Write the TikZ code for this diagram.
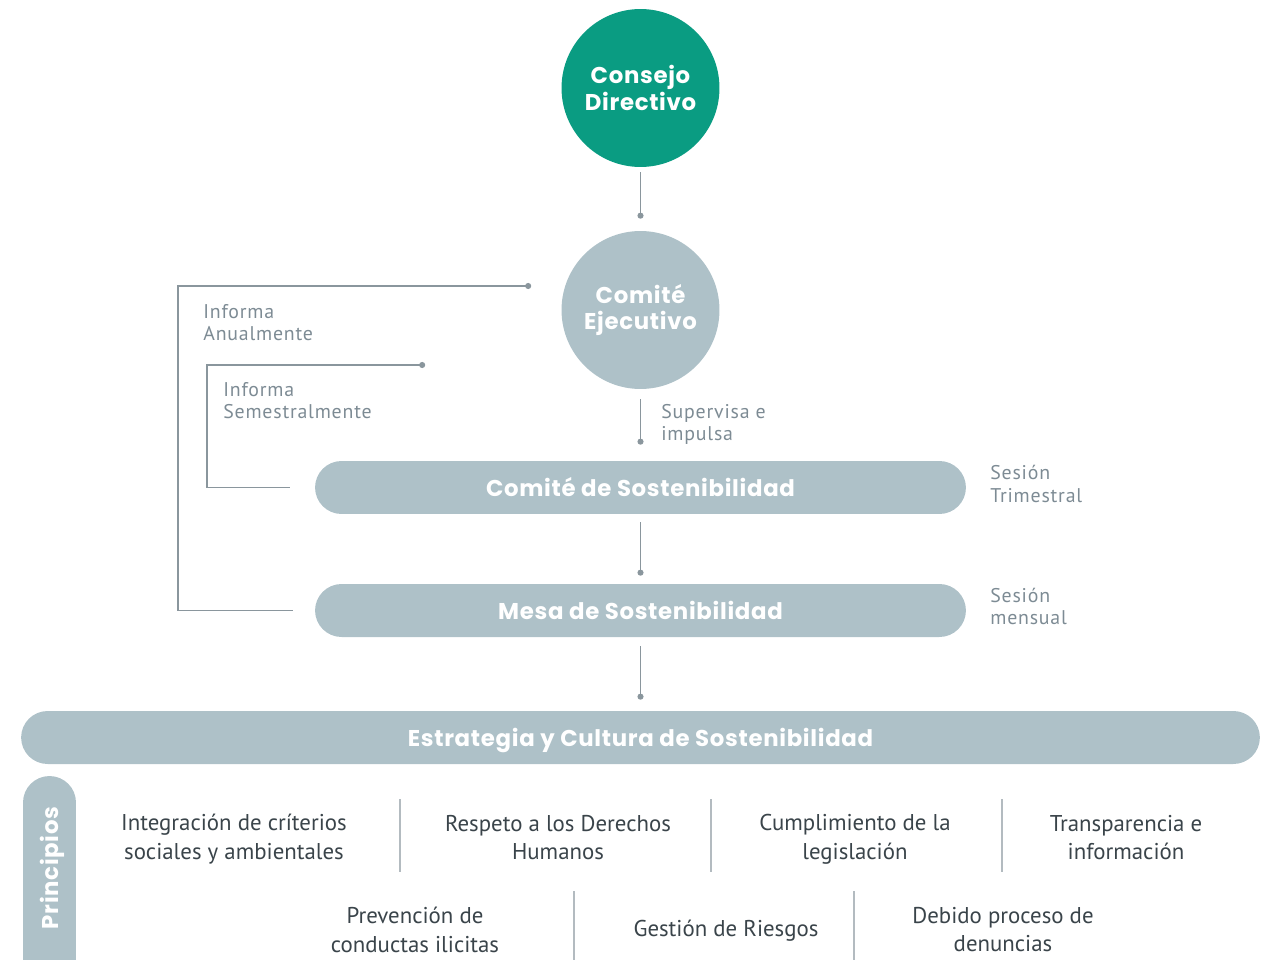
\documentclass[tikz,border=0pt]{standalone}
\usepackage{fontspec}
\setmainfont{PT Sans}
\newfontfamily\titlefont{Poppins}[LetterSpace=3]
\newfontfamily\notefont{PT Sans}[LetterSpace=4]
\usetikzlibrary{positioning, calc, arrows.meta}
\definecolor{Verde}{HTML}{0A9C82}
\definecolor{Gris}{HTML}{AEC1C8}
\definecolor{Linea}{HTML}{8A969D}
\definecolor{Nota}{HTML}{7D8B94}
\definecolor{Texto}{HTML}{3A444A}
\definecolor{Divisor}{HTML}{B3BBC0}
\tikzset{
    circulo/.style={circle, minimum size=3.16cm, inner sep=0pt, align=center, text=white, font=\titlefont\bfseries\fontsize{13}{15}\selectfont},
    barra/.style={rectangle, rounded corners=0.53cm, fill=Gris, minimum height=1.06cm, text height=10.7pt, text depth=0pt, text=white, font=\titlefont\bfseries\fontsize{13}{15}\selectfont},
    enlace/.style={-{Circle[length=0.12cm]}, line width=0.9pt, color=Linea},
    nota/.style={anchor=west, inner sep=0pt, align=left, text=Nota, font=\notefont\fontsize{11.3}{12.6}\selectfont},
    principio/.style={inner sep=0pt, align=center, text=Texto, font=\fontsize{13}{16.4}\selectfont},
    divisor/.style={line width=0.9pt, color=Divisor},
}
\begin{document}
\begin{tikzpicture}[x=0.02cm, y=-0.02cm]
    \useasboundingbox (0,0) rectangle (1282,960);

    % Organos de gobierno
    \node[circulo, fill=Verde] (consejo) at (640.5,88) {Consejo\\Directivo};
    \node[circulo, fill=Gris] (ejecutivo) at (640.5,310) {Comité\\Ejecutivo};
    \node[barra, minimum width=13.02cm] (comite) at (640.5,487.5) {Comité de Sostenibilidad};
    \node[barra, minimum width=13.02cm] (mesa) at (640.5,610.5) {Mesa de Sostenibilidad};
    \node[barra, minimum width=24.78cm] (estrategia) at (640.5,737.5) {Estrategia y Cultura de Sostenibilidad};

    % Lineas verticales
    \draw[enlace, shorten <=0.1cm, shorten >=0.24cm] (consejo) -- (ejecutivo);
    \draw[enlace, shorten <=0.2cm, shorten >=0.32cm] (ejecutivo) -- (comite);
    \draw[enlace, shorten <=0.16cm, shorten >=0.16cm] (comite) -- (mesa);
    \draw[enlace, shorten <=0.18cm, shorten >=0.22cm] (mesa) -- (estrategia);

    % Reportes hacia el Comite Ejecutivo
    \coordinate (anual) at ($(ejecutivo.west)+(-30,-24)$);
    \coordinate (semestral) at ($(ejecutivo.west)+(-136,55)$);
    \draw[enlace] ($(mesa.west)+(-22,0)$) -- ++(-115,0) |- (anual);
    \draw[enlace] ($(comite.west)+(-25,0)$) -- ++(-83,0) |- (semestral);

    % Notas
    \node[nota] (nanual) at (203,322.5) {Informa\\Anualmente};
    \node[nota] (nsemestral) at (223,400.5) {Informa\\Semestralmente};
    \node[nota] (nsupervisa) at (661,424.5) {Supervisa e\\impulsa};
    \node[nota] (ntrimestral) at (990,484) {Sesión\\Trimestral};
    \node[nota] (nmensual) at (990,606.5) {Sesión\\mensual};

    % Principios
    \node[barra, rotate=90, minimum width=5.6cm, rounded corners=0.53cm] (principios) at (49.5,916) {};
    \node[rotate=90, text=white, font=\titlefont\bfseries\fontsize{13}{15}\selectfont] (tprincipios) at (52,868) {Principios};

    \node[principio] (p1) at (234,839.5) {Integración de críterios\\sociales y ambientales};
    \node[principio] (p2) at (558,837.5) {Respeto a los Derechos\\Humanos};
    \node[principio] (p3) at (855,839.5) {Cumplimiento de la\\legislación};
    \node[principio] (p4) at (1126,837.5) {Transparencia e\\información};
    \node[principio] (p5) at (415,929.5) {Prevención de\\conductas ilicitas};
    \node[principio] (p6) at (726,931) {Gestión de Riesgos};
    \node[principio] (p7) at (1003,929.5) {Debido proceso de\\denuncias};

    \draw[divisor] (400,799) -- (400,872);
    \draw[divisor] (711,799) -- (711,872);
    \draw[divisor] (1002,799) -- (1002,872);
    \draw[divisor] (574,891) -- (574,965);
    \draw[divisor] (854,891) -- (854,965);
\end{tikzpicture}
\end{document}
